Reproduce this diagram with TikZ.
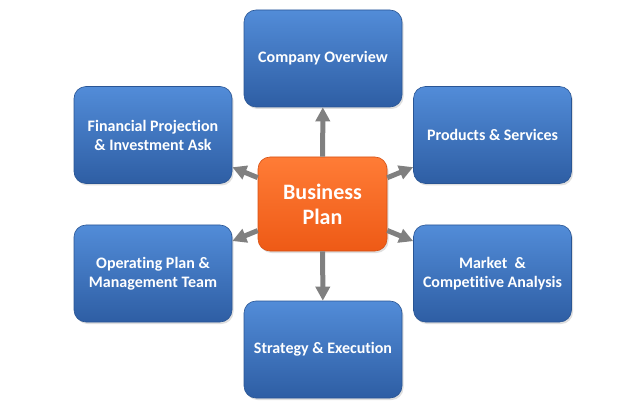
\documentclass[tikz,border=0pt]{standalone}
\usepackage{fontspec}
\setmainfont{Carlito}[Ligatures=NoCommon]
\usetikzlibrary{positioning, arrows.meta, shadows}
\definecolor{boxtop}{RGB}{82,140,216}
\definecolor{boxbottom}{RGB}{46,94,164}
\definecolor{plantop}{RGB}{255,124,54}
\definecolor{planbottom}{RGB}{238,90,22}
\definecolor{arrowgray}{RGB}{128,128,128}

\begin{document}
\begin{tikzpicture}[x=1pt, y=-1pt,
            topic/.style ={rectangle, rounded corners=12pt, top color=boxtop, bottom color=boxbottom,
            draw=boxbottom!90!black, line width=0.6pt, text=white, minimum width=158pt, minimum height=97pt,
            align=center, font=\bfseries\fontsize{16}{19}\selectfont,
            drop shadow={shadow xshift=1.5pt, shadow yshift=-2pt, opacity=0.25}},
            plan/.style ={topic, top color=plantop, bottom color=planbottom, draw=planbottom!90!black,
            minimum width=129pt, minimum height=94pt, font=\bfseries\fontsize{22}{25}\selectfont},
            link/.style ={draw=arrowgray, line width=5pt, -{Triangle[length=14pt, width=14pt]}}]

        \useasboundingbox (0,0) rectangle (639,403);

        %\node [estilo] (nombre) at (x, y) {texto};

        \node[plan] (BP) at (322.5, 204) {Business\\Plan};

        \node[topic] (CO) at (323, 58.5) {Company Overview};
        \node[topic] (FP) at (153, 135) {Financial Projection\\\& Investment Ask};
        \node[topic] (PS) at (492.5, 135) {Products \& Services};
        \node[topic] (OP) at (153, 273.5) {Operating Plan \&\\Management Team};
        \node[topic] (MC) at (492.5, 273.5) {Market~~\&\\Competitive Analysis};
        \node[topic] (SE) at (323, 349.5) {Strategy \& Execution};

        %%--------------------------flechas----------------------

        \path (BP) edge[link] (CO);
        \path (BP) edge[link] (FP);
        \path (BP) edge[link] (PS);
        \path (BP) edge[link] (OP);
        \path (BP) edge[link] (MC);
        \path (BP) edge[link] (SE);

\end{tikzpicture}
\end{document}
